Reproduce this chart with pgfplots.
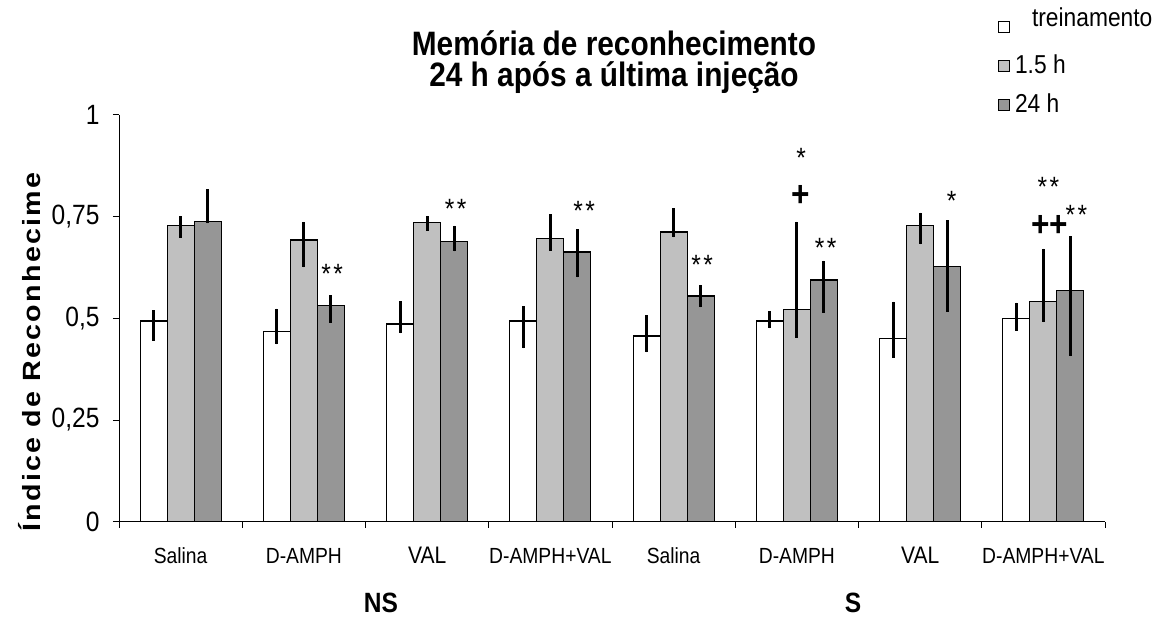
\documentclass[border=0pt]{standalone}
\usepackage{fontspec}
\setmainfont{Liberation Sans}[FakeStretch=0.88]
\newfontfamily\ylabfont{Liberation Sans}[FakeStretch=1.15, LetterSpace=9]
\usepackage{pgfplots}
\pgfplotsset{compat=1.18}

\definecolor{gLight}{HTML}{C0C0C0}
\definecolor{gDark}{HTML}{969696}

\newcommand{\fs}[1]{\fontsize{#1}{#1}\selectfont}

\begin{document}
\begin{tikzpicture}[
  ast/.style={font=\fs{28}, inner sep=0pt, yshift=-6bp},
  cross/.style={font=\fs{36}\bfseries, inner sep=0pt, yshift=-2bp},
]
\path[use as bounding box] (0,0) rectangle (1167bp,619bp);

\begin{axis}[
  at={(119bp,97.3bp)}, anchor=south west,
  scale only axis, width=986bp, height=406.7bp,
  xmin=0, xmax=8, ymin=0, ymax=1,
  axis x line*=bottom, axis y line*=left,
  axis line style={line width=1bp, black},
  tick align=outside, major tick length=6bp,
  tick style={line width=1bp, black},
  xtick={0,1,...,8}, xticklabels={},
  extra x ticks={0.5,1.5,...,7.5},
  extra x tick labels={Salina, D-AMPH, {\fs{24}VAL}, D-AMPH+VAL,
                       Salina, D-AMPH, {\fs{24}VAL}, D-AMPH+VAL},
  extra x tick style={major tick length=0pt,
     tick label style={anchor=center, yshift=-34bp, font=\fs{22}}},
  ytick={0,0.25,0.5,0.75,1},
  yticklabels={0,{0,25},{0,5},{0,75},1},
  yticklabel style={font=\fs{28}, xshift=-10bp},
  ybar=0pt, bar width=0.219,
  legend style={at={(0.8915,1.2496)}, anchor=north west, draw=none, fill=none,
     inner sep=0pt, row sep=12bp, column sep=5bp, font=\fs{26},
     nodes={inner sep=0pt, text height=21bp, text depth=6bp}},
  legend cell align=left,
  legend image code/.code={\draw[#1, line width=0.8bp] (0bp,-5.5bp) rectangle (11bp,5.5bp);},
  every axis plot/.append style={draw=black, line width=1.2bp},
  error bars/y dir=both, error bars/y explicit,
  error bars/error mark=none,
  error bars/error bar style={line width=2.8bp, black},
]
% treinamento
\addplot[fill=white] coordinates {
  (0.5,0.4935) += (0,0.027)  -= (0,0.049)
  (1.5,0.4672) += (0,0.0565) -= (0,0.031)
  (2.5,0.4861) += (0,0.0558) -= (0,0.0229)
  (3.5,0.4935) += (0,0.0361) -= (0,0.0671)
  (4.5,0.4566) += (0,0.0509) -= (0,0.0401)
  (5.5,0.4935) += (0,0.0238) -= (0,0.018)
  (6.5,0.4500) += (0,0.091)  -= (0,0.0467)
  (7.5,0.4992) += (0,0.0393) -= (0,0.0303)
};
% 1.5 h
\addplot[fill=gLight] coordinates {
  (0.5,0.7287) += (0,0.023)  -= (0,0.030)
  (1.5,0.6927) += (0,0.0443) -= (0,0.0672)
  (2.5,0.7352) += (0,0.0165) -= (0,0.0197)
  (3.5,0.6968) += (0,0.059)  -= (0,0.0304)
  (4.5,0.7123) += (0,0.059)  -= (0,0.013)
  (5.5,0.5222) += (0,0.2155) -= (0,0.0698)
  (6.5,0.7287) += (0,0.0311) -= (0,0.0467)
  (7.5,0.5419) += (0,0.1294) -= (0,0.0509)
};
% 24 h
\addplot[fill=gDark] coordinates {
  (0.5,0.7385) += (0,0.079)  -= (0,0.005)
  (1.5,0.5311) += (0,0.0256) -= (0,0.0418)
  (2.5,0.6894) += (0,0.0384) -= (0,0.0245)
  (3.5,0.6632) += (0,0.0558) -= (0,0.0622)
  (4.5,0.5550) += (0,0.027)  -= (0,0.0278)
  (5.5,0.5943) += (0,0.0475) -= (0,0.0804)
  (6.5,0.6270) += (0,0.1148) -= (0,0.1106)
  (7.5,0.5680) += (0,0.1345) -= (0,0.1606)
};
\legend{\raisebox{8bp}{\hspace*{17bp}treinamento}, 1.5 h, 24 h}

% significance marks
\node[ast] at (axis cs:1.730,0.623) {*\kern2.5bp*};
\node[ast] at (axis cs:2.731,0.783) {*\kern2.5bp*};
\node[ast] at (axis cs:3.774,0.780) {*\kern2.5bp*};
\node[ast] at (axis cs:4.731,0.647) {*\kern2.5bp*};
\node[ast] at (axis cs:5.534,0.910) {*};
\node[cross] at (axis cs:5.531,0.805) {+};
\node[ast] at (axis cs:5.734,0.688) {*\kern2.5bp*};
\node[ast] at (axis cs:6.756,0.803) {*};
\node[ast] at (axis cs:7.540,0.838) {*\kern2.5bp*};
\node[cross] at (axis cs:7.551,0.732) {++};
\node[ast] at (axis cs:7.768,0.769) {*\kern2.5bp*};
\end{axis}

% title, group names and y label
\node[font=\fs{34}\bfseries, align=center, inner sep=0pt] at (614bp,557bp)
  {Memória de reconhecimento\\[-3bp]24 h após a última injeção};
\node[font=\fs{28}\bfseries, inner sep=0pt] at (381bp,16bp) {NS};
\node[font=\fs{28}\bfseries, inner sep=0pt] at (853bp,16bp) {S};
\node[font=\ylabfont\fs{25}\bfseries, rotate=90, inner sep=0pt] at (30bp,267bp)
  {Índice de Reconhecime};
\end{tikzpicture}
\end{document}
